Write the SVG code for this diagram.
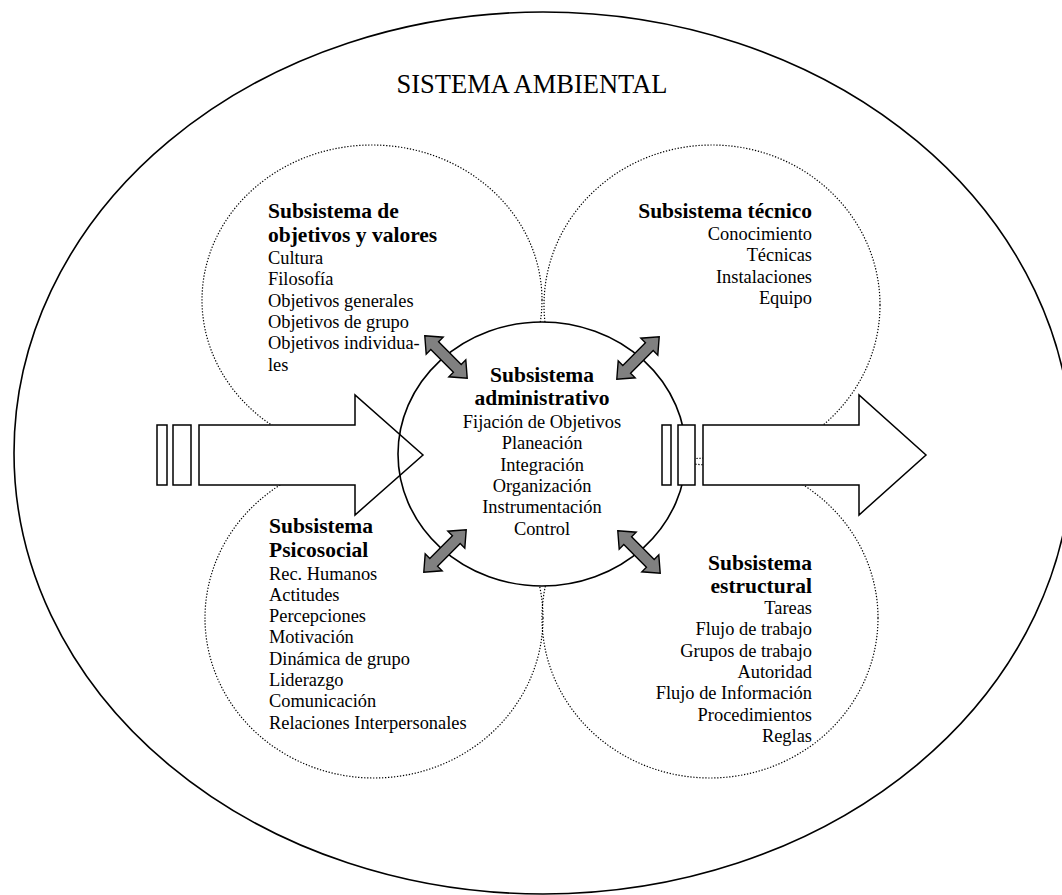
<svg xmlns="http://www.w3.org/2000/svg" xmlns:xlink="http://www.w3.org/1999/xlink" width="1062" height="895" viewBox="0 0 1062 895">
<style>
  .outer { fill: #fff; stroke: #000; stroke-width: 1.6; }
  .dot { fill: none; stroke: #000; stroke-width: 1.2; stroke-dasharray: 1.3 1.7; }
  .blk { fill: #fff; stroke: #000; stroke-width: 1.5; }
  .dbl { fill: #808080; stroke: #000; stroke-width: 1.4; stroke-linejoin: miter; }
  text { font-family: "Liberation Serif", "Times New Roman", serif; fill: #000; }
  .t { font-size: 18.4px; }
  .b { font-size: 21.5px; font-weight: bold; }
  .title { font-size: 26.5px; }
  .e { text-anchor: end; }
  .m { text-anchor: middle; }
</style>
<defs>
  <path id="dblarrow" d="M -30 0 L -16 -12 L -16 -5.5 L 16 -5.5 L 16 -12 L 30 0 L 16 12 L 16 5.5 L -16 5.5 L -16 12 Z"/>
  <ellipse id="admin-shape" cx="542" cy="454" rx="144" ry="132"/>
</defs>
<rect width="1062" height="895" fill="#fff"/>

<g id="sistema-ambiental">
  <ellipse class="outer" cx="543" cy="453" rx="529" ry="441"/>
  <text class="title m" x="532" y="93">SISTEMA AMBIENTAL</text>
</g>

<g id="subsistema-objetivos">
  <ellipse class="dot" cx="372" cy="300" rx="170" ry="155"/>
  <text class="b" x="268" y="218">Subsistema de</text>
  <text class="b" x="268" y="242">objetivos y valores</text>
  <text class="t" x="268" y="264">Cultura</text>
  <text class="t" x="268" y="285.3">Filosofía</text>
  <text class="t" x="268" y="306.6">Objetivos generales</text>
  <text class="t" x="268" y="327.9">Objetivos de grupo</text>
  <text class="t" x="268" y="349.2">Objetivos individua-</text>
  <text class="t" x="268" y="370.5">les</text>
</g>

<g id="subsistema-tecnico">
  <ellipse class="dot" cx="712" cy="305" rx="168" ry="160"/>
  <text class="b e" x="812" y="218">Subsistema técnico</text>
  <text class="t e" x="812" y="240">Conocimiento</text>
  <text class="t e" x="812" y="261.3">Técnicas</text>
  <text class="t e" x="812" y="282.6">Instalaciones</text>
  <text class="t e" x="812" y="303.9">Equipo</text>
</g>

<g id="subsistema-psicosocial">
  <ellipse class="dot" cx="374" cy="618" rx="169" ry="160"/>
  <text class="b" x="269" y="533">Subsistema</text>
  <text class="b" x="269" y="557">Psicosocial</text>
  <text class="t" x="269" y="579.5">Rec. Humanos</text>
  <text class="t" x="269" y="600.8">Actitudes</text>
  <text class="t" x="269" y="622.1">Percepciones</text>
  <text class="t" x="269" y="643.4">Motivación</text>
  <text class="t" x="269" y="664.7">Dinámica de grupo</text>
  <text class="t" x="269" y="686">Liderazgo</text>
  <text class="t" x="269" y="707.3">Comunicación</text>
  <text class="t" x="269" y="728.6">Relaciones Interpersonales</text>
</g>

<g id="subsistema-estructural">
  <ellipse class="dot" cx="710" cy="618" rx="168" ry="160"/>
  <text class="b e" x="812" y="570">Subsistema</text>
  <text class="b e" x="812" y="593">estructural</text>
  <text class="t e" x="812" y="614">Tareas</text>
  <text class="t e" x="812" y="635.3">Flujo de trabajo</text>
  <text class="t e" x="812" y="656.6">Grupos de trabajo</text>
  <text class="t e" x="812" y="677.9">Autoridad</text>
  <text class="t e" x="812" y="699.2">Flujo de Información</text>
  <text class="t e" x="812" y="720.5">Procedimientos</text>
  <text class="t e" x="812" y="741.8">Reglas</text>
</g>

<g id="subsistema-administrativo-fondo">
  <use xlink:href="#admin-shape" href="#admin-shape" fill="#fff" stroke="none"/>
</g>

<g id="connectors">
  <g id="entrada">
    <rect class="blk" x="157" y="425" width="10" height="60"/>
    <rect class="blk" x="173" y="425" width="18" height="60"/>
    <path class="blk" d="M 199 425 L 355 425 L 355 395 L 423 455 L 355 515 L 355 485 L 199 485 Z"/>
  </g>
  <use xlink:href="#admin-shape" href="#admin-shape" fill="none" stroke="#000" stroke-width="1.6"/>
  <g id="salida">
    <rect class="blk" x="662" y="425" width="9" height="60"/>
    <rect class="blk" x="678" y="425" width="17" height="60"/>
    <path class="blk" d="M 703 425 L 859 425 L 859 395 L 926 455 L 859 515 L 859 485 L 703 485 Z"/>
  </g>
  <g id="interacciones">
    <use xlink:href="#dblarrow" href="#dblarrow" class="dbl" transform="translate(446 357) rotate(45)"/>
    <use xlink:href="#dblarrow" href="#dblarrow" class="dbl" transform="translate(638 358) rotate(-45)"/>
    <use xlink:href="#dblarrow" href="#dblarrow" class="dbl" transform="translate(445 551) rotate(-45)"/>
    <use xlink:href="#dblarrow" href="#dblarrow" class="dbl" transform="translate(639 552) rotate(45)"/>
  </g>
</g>

<g id="subsistema-administrativo">
  <text class="b m" x="542" y="382">Subsistema</text>
  <text class="b m" x="542" y="405">administrativo</text>
  <text class="t m" x="542" y="428">Fijación de Objetivos</text>
  <text class="t m" x="542" y="449.3">Planeación</text>
  <text class="t m" x="542" y="470.6">Integración</text>
  <text class="t m" x="542" y="491.9">Organización</text>
  <text class="t m" x="542" y="513.2">Instrumentación</text>
  <text class="t m" x="542" y="534.5">Control</text>
</g>
</svg>
